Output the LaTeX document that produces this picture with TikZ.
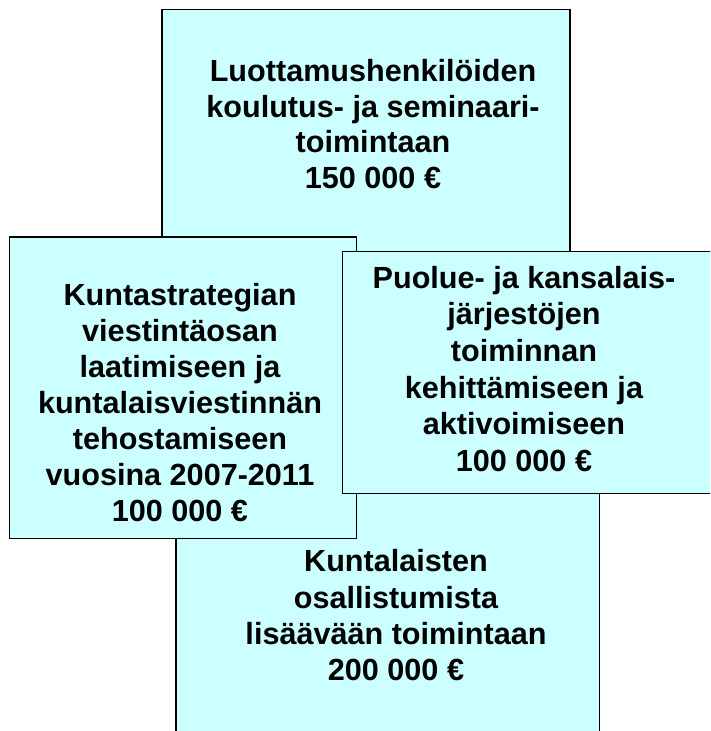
\documentclass[tikz,border=0pt]{standalone}
\usepackage{fontspec}
\setmainfont{Liberation Sans}
\definecolor{boxfill}{RGB}{204,255,255}
\begin{document}
\begin{tikzpicture}[x=1pt,y=-1pt,
  panel/.style={draw=black, line width=1.6pt, fill=boxfill},
  boxtext/.style={align=center, anchor=north, inner sep=0pt, text=black}]
\useasboundingbox (0,0) rectangle (710,731);
\fill[white] (0,0) rectangle (710,731);
\clip (0,0) rectangle (710,731);
% top box
\path[panel] (162,9.5) rectangle (570,266.5);
\node[boxtext, font=\bfseries\fontsize{30.6}{35.5}\selectfont] (ttop) at (373,59.4)
  {Luottamushenkilöiden\\koulutus- ja seminaari-\\toimintaan\\150 000 €};
% bottom box
\path[panel] (176,480) rectangle (599.5,745);
\node[boxtext, font=\bfseries\fontsize{30.6}{36.3}\selectfont] (tbottom) at (396,549.4)
  {Kuntalaisten\\osallistumista\\lisäävään toimintaan\\200 000 €};
% left box
\path[panel] (9.5,237) rectangle (356.5,538.5);
\node[boxtext, font=\bfseries\fontsize{30.6}{36.1}\selectfont] (tleft) at (180,282.7)
  {Kuntastrategian\\viestintäosan\\laatimiseen ja\\kuntalaisviestinnän\\tehostamiseen\\vuosina 2007-2011\\100 000 €};
% right box
\path[panel] (342.5,251.5) rectangle (725,493.5);
\node[boxtext, font=\bfseries\fontsize{30.6}{36.7}\selectfont] (tright) at (524,265.7)
  {Puolue- ja kansalais-\\järjestöjen\\toiminnan\\kehittämiseen ja\\aktivoimiseen\\100 000 €};
\end{tikzpicture}
\end{document}
